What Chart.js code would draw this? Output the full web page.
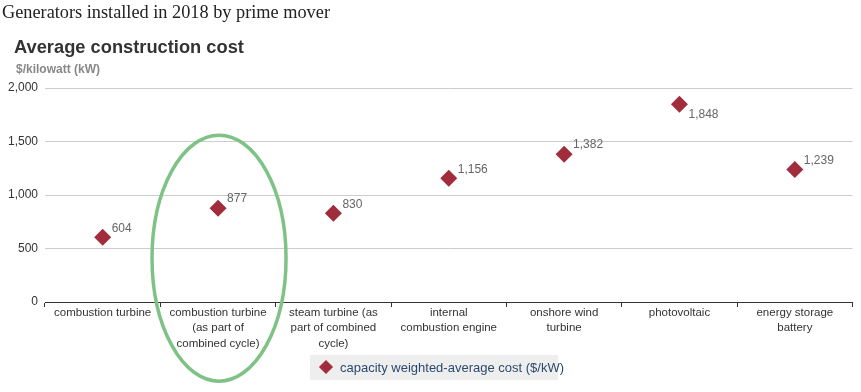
<!DOCTYPE html>
<html><head><meta charset="utf-8">
<script src="https://cdn.jsdelivr.net/npm/chart.js@4"></script>
<style>
html,body{margin:0;padding:0;background:#fff;}
#wrap{position:relative;width:861px;height:392px;overflow:hidden;}
#t1{position:absolute;left:2px;top:2px;font-family:"Liberation Serif","Times New Roman",serif;font-size:18.3px;color:#222;white-space:nowrap;}
#t2{position:absolute;left:14px;top:36px;font-family:"Liberation Sans",Arial,sans-serif;font-size:18.3px;font-weight:bold;color:#333;white-space:nowrap;}
#t3{position:absolute;left:16px;top:62px;font-family:"Liberation Sans",Arial,sans-serif;font-size:12px;font-weight:bold;color:#888;white-space:nowrap;}
#c{position:absolute;left:0;top:0;}
#leg{position:absolute;left:310px;top:355px;width:248px;height:25px;background:#eeeeee;font-family:"Liberation Sans",Arial,sans-serif;font-size:13px;color:#2a4a6e;white-space:nowrap;}
#leg .d{position:absolute;left:11px;top:7px;width:10px;height:10px;background:#a02c3c;transform:rotate(45deg);}
#leg .tx{position:absolute;left:30px;top:5px;}
</style></head>
<body><div id="wrap">
<canvas id="c" width="861" height="392"></canvas>
<div id="t1">Generators installed in 2018 by prime mover</div>
<div id="t2">Average construction cost</div>
<div id="t3">$/kilowatt (kW)</div>
<div id="leg"><div class="d"></div><div class="tx">capacity weighted-average cost ($/kW)</div></div>
</div>
<script>
const categories = [
  ["combustion turbine"],
  ["combustion turbine", "(as part of", "combined cycle)"],
  ["steam turbine (as", "part of combined", "cycle)"],
  ["internal", "combustion engine"],
  ["onshore wind", "turbine"],
  ["photovoltaic"],
  ["energy storage", "battery"]
];
const costs = [604, 877, 830, 1156, 1382, 1848, 1239];
const seriesName = "capacity weighted-average cost ($/kW)";
const yTicks = [0, 500, 1000, 1500, 2000];
const labelBelow = [false, false, false, false, false, true, false];
const highlightIndex = 1;

const fmt = v => v.toLocaleString('en-US');

const labelPlugin = {
  id: 'valLabels',
  afterDatasetsDraw(chart) {
    const ctx = chart.ctx;
    const meta = chart.getDatasetMeta(0);
    ctx.save();
    ctx.font = '12px "Liberation Sans", Arial, sans-serif';
    ctx.fillStyle = '#666';
    ctx.textAlign = 'left';
    ctx.textBaseline = 'middle';
    meta.data.forEach((pt, i) => {
      const dy = labelBelow[i] ? 10 : -9;
      ctx.fillText(fmt(costs[i]), pt.x + 9, pt.y + dy);
    });
    ctx.restore();
  }
};

const ellipsePlugin = {
  id: 'ellipse',
  afterDraw(chart) {
    const xs = chart.scales.x, ys = chart.scales.y;
    const cx = xs.getPixelForValue(highlightIndex) + 1;
    const cy = ys.getPixelForValue(410);
    const ctx = chart.ctx;
    ctx.save();
    ctx.beginPath();
    ctx.ellipse(cx, cy, 67, 123, 0, 0, Math.PI * 2);
    ctx.strokeStyle = '#7fc286';
    ctx.lineWidth = 3.5;
    ctx.stroke();
    ctx.restore();
  }
};

new Chart(document.getElementById('c'), {
  type: 'line',
  data: {
    labels: categories,
    datasets: [{
      label: seriesName,
      data: costs,
      showLine: false,
      pointStyle: 'rectRot',
      pointRadius: 8.5,
      pointHoverRadius: 8.5,
      backgroundColor: '#a02c3c',
      borderColor: '#a02c3c',
      borderWidth: 0
    }]
  },
  options: {
    responsive: false,
    animation: false,
    events: [],
    layout: { padding: { top: 88, right: 5.5, left: 0, bottom: 0 } },
    plugins: { legend: { display: false }, tooltip: { enabled: false } },
    scales: {
      x: {
        type: 'category',
        offset: true,
        grid: { offset: true, drawOnChartArea: false, drawTicks: true, tickLength: 5, color: '#333', lineWidth: 1 },
        border: { display: true, color: '#333', width: 1 },
        ticks: {
          maxRotation: 0, autoSkip: false, padding: -2,
          color: '#333',
          font: { family: '"Liberation Sans", Arial, sans-serif', size: 11.5, lineHeight: 1.35 }
        },
        afterFit(s) { s.height = 90; s.paddingLeft = 0; s.paddingRight = 0; }
      },
      y: {
        min: 0, max: 2000,
        afterBuildTicks(s) { s.ticks = yTicks.map(v => ({ value: v })); },
        grid: { color: '#cccccc', lineWidth: 1, drawTicks: false },
        border: { display: false },
        ticks: {
          padding: 7,
          color: '#333',
          font: { family: '"Liberation Sans", Arial, sans-serif', size: 12 },
          callback: v => fmt(v)
        },
        afterFit(s) { s.width = 45; s.paddingTop = 0; s.paddingBottom = 0; }
      }
    }
  },
  plugins: [labelPlugin, ellipsePlugin]
});
</script>
</body></html>
